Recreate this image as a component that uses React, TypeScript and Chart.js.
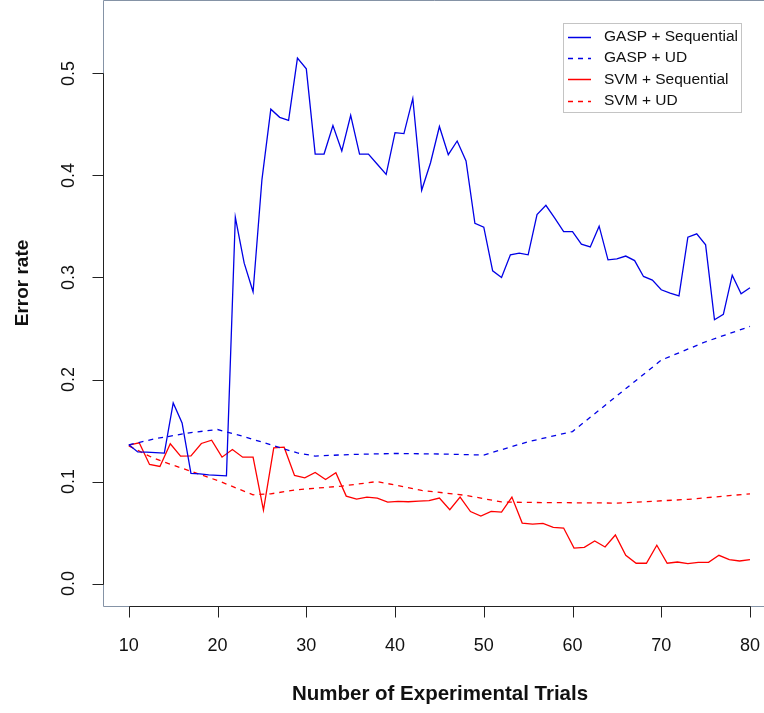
import React, { useEffect, useRef } from "react";
import { Chart, registerables } from "chart.js";

Chart.register(...registerables);

// ---- data ----
const gaspSeqX = [10, 11, 12, 13, 14, 15, 16, 17, 18, 19, 20, 21, 22, 23, 24, 25, 26, 27, 28, 29, 30, 31, 32, 33, 34, 35, 36, 37, 38, 39, 40, 41, 42, 43, 44, 45, 46, 47, 48, 49, 50, 51, 52, 53, 54, 55, 56, 57, 58, 59, 60, 61, 62, 63, 64, 65, 66, 67, 68, 69, 70, 71, 72, 73, 74, 75, 76, 77, 78, 79, 80];
const gaspSeq = [0.136, 0.129, 0.1288, 0.1283, 0.1278, 0.177, 0.1575, 0.108, 0.1075, 0.1065, 0.106, 0.1055, 0.359, 0.314, 0.286, 0.396, 0.465, 0.457, 0.454, 0.515, 0.5045, 0.421, 0.421, 0.449, 0.424, 0.459, 0.421, 0.421, 0.411, 0.401, 0.442, 0.441, 0.4755, 0.3855, 0.4125, 0.448, 0.4204, 0.4338, 0.4142, 0.3532, 0.3493, 0.3066, 0.3, 0.3222, 0.3239, 0.3222, 0.3617, 0.3708, 0.3581, 0.345, 0.345, 0.3327, 0.33, 0.3503, 0.3173, 0.3183, 0.321, 0.3166, 0.301, 0.2975, 0.288, 0.2847, 0.282, 0.3395, 0.3428, 0.332, 0.2586, 0.2638, 0.3023, 0.284, 0.29];

const gaspUdX = [10, 11, 13, 15, 17, 20, 23, 26, 29, 31, 35, 40, 45, 50, 55, 60, 65, 70, 75, 80];
const gaspUd = [0.136, 0.138, 0.142, 0.145, 0.148, 0.151, 0.144, 0.136, 0.128, 0.125, 0.1265, 0.1275, 0.127, 0.126, 0.139, 0.149, 0.184, 0.219, 0.237, 0.252];

const svmSeqX = [10, 11.17, 12.33, 13.5, 14.67, 15.83, 17, 18.17, 19.33, 20.5, 21.67, 22.83, 24, 25.17, 26.33, 27.5, 28.67, 29.83, 31, 32.17, 33.33, 34.5, 35.67, 36.83, 38, 39.17, 40.33, 41.5, 42.67, 43.83, 45, 46.17, 47.33, 48.5, 49.67, 50.83, 52, 53.17, 54.33, 55.5, 56.67, 57.83, 59, 60.17, 61.33, 62.5, 63.67, 64.83, 66, 67.17, 68.33, 69.5, 70.67, 71.83, 73, 74.17, 75.33, 76.5, 77.67, 78.83, 80];
const svmSeq = [0.1356, 0.138, 0.1167, 0.1148, 0.137, 0.1249, 0.1252, 0.1373, 0.1405, 0.1239, 0.1314, 0.1239, 0.1239, 0.072, 0.133, 0.1337, 0.106, 0.1037, 0.1089, 0.102, 0.1086, 0.0857, 0.0828, 0.0847, 0.0838, 0.0798, 0.0805, 0.0802, 0.0808, 0.0812, 0.0838, 0.0724, 0.0848, 0.0706, 0.0662, 0.0707, 0.0701, 0.0848, 0.0593, 0.0583, 0.059, 0.0551, 0.0544, 0.0348, 0.0355, 0.0417, 0.0358, 0.0476, 0.0277, 0.0199, 0.0199, 0.0375, 0.0199, 0.0211, 0.0196, 0.0208, 0.0208, 0.0277, 0.0235, 0.0221, 0.0235];

const svmUdX = [10, 12.75, 15, 17, 20, 24, 26, 29, 34, 38, 43, 48, 52, 55, 60, 65, 68, 73, 80];
const svmUd = [0.135, 0.123, 0.116, 0.11, 0.101, 0.087, 0.088, 0.092, 0.0955, 0.1, 0.0913, 0.0864, 0.08, 0.0795, 0.0792, 0.0789, 0.0802, 0.0825, 0.088];

const seriesLabels = ["GASP + Sequential", "GASP + UD", "SVM + Sequential", "SVM + UD"];
const xTicks = [10, 20, 30, 40, 50, 60, 70, 80];
const yTicks = [0.0, 0.1, 0.2, 0.3, 0.4, 0.5];
const yTickLabels = ["0.0", "0.1", "0.2", "0.3", "0.4", "0.5"];
const xTitle = "Number of Experimental Trials";
const yTitle = "Error rate";

// ---- style ----
const FONT = "'Liberation Sans', Arial, Helvetica, sans-serif";
const BLUE = "#0000e6";
const RED = "#ff0000";
const BOX = "#8593a6";
const AXIS = "#222222";
const DASH = [5, 5];

const pts = (xs: number[], ys: number[]) => xs.map((x, i) => ({ x, y: ys[i] }));

const rPlot = {
  id: "rPlot",
  afterDraw(chart: any) {
    const { ctx, chartArea: a, scales } = chart;
    const xs = scales.x;
    const ys = scales.y;
    ctx.save();
    // box (right side cropped off)
    ctx.strokeStyle = BOX;
    ctx.lineWidth = 1;
    ctx.beginPath();
    ctx.moveTo(a.right + 2, a.top + 0.5);
    ctx.lineTo(a.left - 0.5, a.top + 0.5);
    ctx.lineTo(a.left - 0.5, a.bottom + 0.5);
    ctx.lineTo(a.right + 2, a.bottom + 0.5);
    ctx.stroke();

    // axes
    ctx.strokeStyle = AXIS;
    ctx.fillStyle = "#111";
    ctx.lineWidth = 1;
    const bx = a.bottom + 0.5;
    const x0 = Math.round(xs.getPixelForValue(xTicks[0])) + 0.5;
    const x1 = Math.round(xs.getPixelForValue(xTicks[xTicks.length - 1])) + 0.5;
    ctx.beginPath();
    ctx.moveTo(x0, bx);
    ctx.lineTo(x1, bx);
    xTicks.forEach((t) => {
      const px = Math.round(xs.getPixelForValue(t)) + 0.5;
      ctx.moveTo(px, bx);
      ctx.lineTo(px, bx + 11);
    });
    const lx = a.left - 0.5;
    const y0 = Math.round(ys.getPixelForValue(yTicks[0])) + 0.5;
    const y1 = Math.round(ys.getPixelForValue(yTicks[yTicks.length - 1])) + 0.5;
    ctx.moveTo(lx, y0);
    ctx.lineTo(lx, y1);
    yTicks.forEach((t) => {
      const py = Math.round(ys.getPixelForValue(t)) + 0.5;
      ctx.moveTo(lx, py);
      ctx.lineTo(lx - 11, py);
    });
    ctx.stroke();

    ctx.font = `18px ${FONT}`;
    ctx.textAlign = "center";
    ctx.textBaseline = "middle";
    xTicks.forEach((t) => {
      ctx.fillText(String(t), xs.getPixelForValue(t), 646);
    });
    yTicks.forEach((t, i) => {
      ctx.save();
      ctx.translate(69, ys.getPixelForValue(t));
      ctx.rotate(-Math.PI / 2);
      ctx.fillText(yTickLabels[i], 0, 0);
      ctx.restore();
    });

    ctx.font = `bold 20.5px ${FONT}`;
    ctx.fillText(xTitle, 440, 694);
    ctx.font = `bold 19px ${FONT}`;
    ctx.save();
    ctx.translate(23, 283);
    ctx.rotate(-Math.PI / 2);
    ctx.fillText(yTitle, 0, 0);
    ctx.restore();

    // legend
    const L = 563.5, T = 23.5, W = 178, H = 89;
    ctx.fillStyle = "#fff";
    ctx.fillRect(L, T, W, H);
    ctx.strokeStyle = "#c4c4c4";
    ctx.strokeRect(L, T, W, H);
    ctx.font = `15.5px ${FONT}`;
    ctx.textAlign = "left";
    chart.data.datasets.forEach((ds: any, i: number) => {
      const yy = 36.5 + i * 21.4;
      ctx.strokeStyle = ds.borderColor;
      ctx.lineWidth = 1.5;
      ctx.setLineDash(ds.borderDash || []);
      ctx.beginPath();
      ctx.moveTo(568, Math.round(yy) + 0.5);
      ctx.lineTo(591, Math.round(yy) + 0.5);
      ctx.stroke();
      ctx.setLineDash([]);
      ctx.fillStyle = "#111";
      ctx.fillText(ds.label, 604, yy);
    });
    ctx.restore();
  },
};

export default function App() {
  const ref = useRef<HTMLCanvasElement | null>(null);
  useEffect(() => {
    if (!ref.current) return;
    const common = { pointRadius: 0, borderWidth: 1.3, tension: 0, fill: false };
    const chart = new Chart(ref.current, {
      type: "line",
      data: {
        datasets: [
          { ...common, label: seriesLabels[0], data: pts(gaspSeqX, gaspSeq), borderColor: BLUE },
          { ...common, label: seriesLabels[1], data: pts(gaspUdX, gaspUd), borderColor: BLUE, borderDash: DASH },
          { ...common, label: seriesLabels[2], data: pts(svmSeqX, svmSeq), borderColor: RED },
          { ...common, label: seriesLabels[3], data: pts(svmUdX, svmUd), borderColor: RED, borderDash: DASH },
        ],
      },
      options: {
        animation: false,
        responsive: false,
        devicePixelRatio: 1,
        layout: { padding: { left: 104, right: 0, top: 0, bottom: 107 } },
        scales: {
          x: { type: "linear", min: 7.2, max: 81.58, display: false },
          y: { type: "linear", min: -0.022, max: 0.572, display: false },
        },
        plugins: { legend: { display: false }, tooltip: { enabled: false } },
      },
      plugins: [rPlot],
    } as any);
    return () => chart.destroy();
  }, []);
  return (
    <div style={{ position: "absolute", left: 0, top: 0, width: 764, height: 713, background: "#fff" }}>
      <canvas ref={ref} width={764} height={713} style={{ width: 764, height: 713, display: "block" }} />
    </div>
  );
}
